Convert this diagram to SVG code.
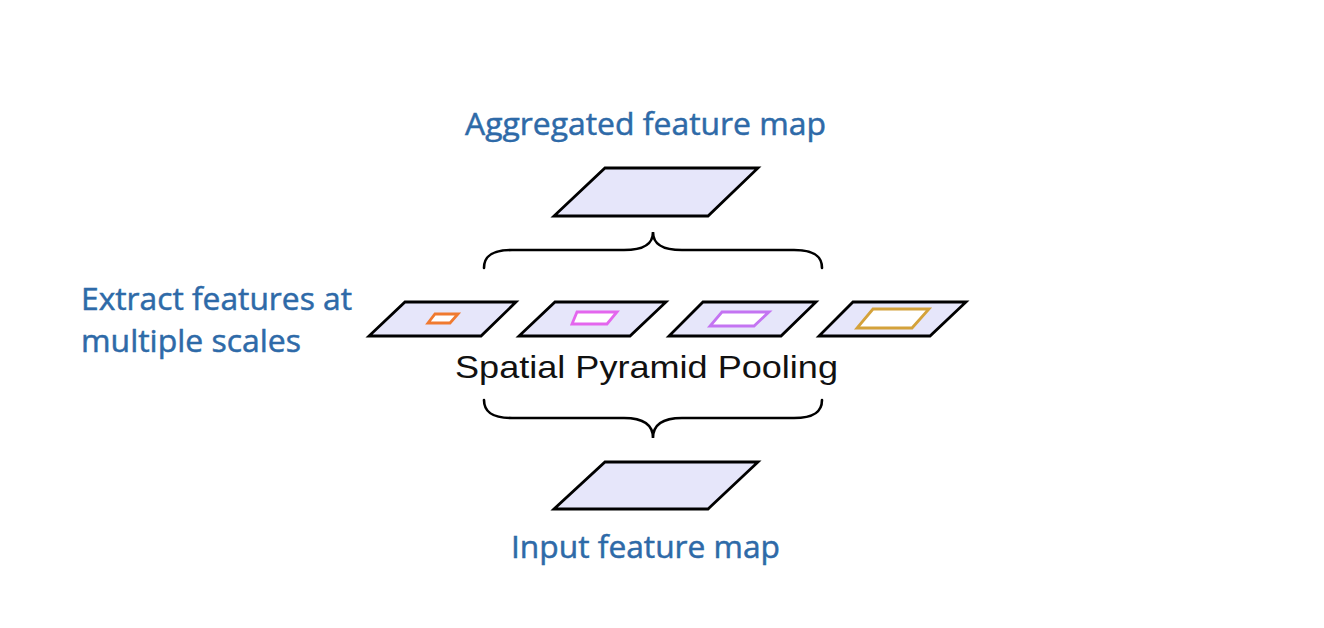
<svg xmlns="http://www.w3.org/2000/svg" width="1324" height="628" viewBox="0 0 1324 628">
<style>
.map{fill:#e6e6fa;stroke:#000;stroke-width:2.8;stroke-linejoin:miter}
.brace{fill:none;stroke:#000;stroke-width:2.6;stroke-linecap:round}
.win{fill:#fff;stroke-width:2.8}
.lbl{font-family:"Open Sans","Noto Sans",sans-serif;fill:#2e6aa8;stroke:#2e6aa8;stroke-width:0.5}
.spp{font-family:"Liberation Sans",Arial,sans-serif;fill:#111}
</style>
<rect width="1324" height="628" fill="#fff"/>
<g id="aggregated-map">
<polygon class="map" points="605,168 758,168 708,216 554,216"/>
<text class="lbl" x="465" y="135" font-size="31" textLength="361" lengthAdjust="spacingAndGlyphs">Aggregated feature map</text>
</g>
<g id="scale-1">
<polygon class="map" points="405,302 516,302 481,336 369,336"/>
<polygon class="win" stroke="#f07a30" points="435,314 458,314 450,323 428,323"/>
</g>
<g id="scale-2">
<polygon class="map" points="555,302 666,302 630,336 519,336"/>
<polygon class="win" stroke="#e466ee" points="577,312 617,312 607,324 572,324"/>
</g>
<g id="scale-3">
<polygon class="map" points="703,302 816,302 781,336 669,336"/>
<polygon class="win" stroke="#c474f2" points="722,312 769,312 754,326 710,326"/>
</g>
<g id="scale-4">
<polygon class="map" points="853,302 966,302 930,336 819,336"/>
<polygon class="win" stroke="#d4a23a" points="873,309 929,309 912,328 857,328"/>
</g>
<g id="input-map">
<polygon class="map" points="605,462 758,462 708,509 554,509"/>
<text class="lbl" x="511" y="558" font-size="31" textLength="269" lengthAdjust="spacingAndGlyphs">Input feature map</text>
</g>
<g id="scales-label">
<text class="lbl" x="81" y="310" font-size="31" textLength="271" lengthAdjust="spacingAndGlyphs">Extract features at</text>
<text class="lbl" x="81" y="352" font-size="31" textLength="220" lengthAdjust="spacingAndGlyphs">multiple scales</text>
</g>
<g id="spp-label">
<text class="spp" x="455" y="378" font-size="32" textLength="383" lengthAdjust="spacingAndGlyphs">Spatial Pyramid Pooling</text>
</g>
<g id="connectors">
<path class="brace" d="M484,268 C484,256 492,250 512,250 L624,250 C643,250 653,245 653,232 C653,245 663,250 682,250 L794,250 C814,250 822,256 822,268"/>
<path class="brace" d="M484,400 C484,412 492,418 512,418 L624,418 C643,418 653,425 653,438 C653,425 663,418 682,418 L794,418 C814,418 822,412 822,400"/>
</g>
</svg>
